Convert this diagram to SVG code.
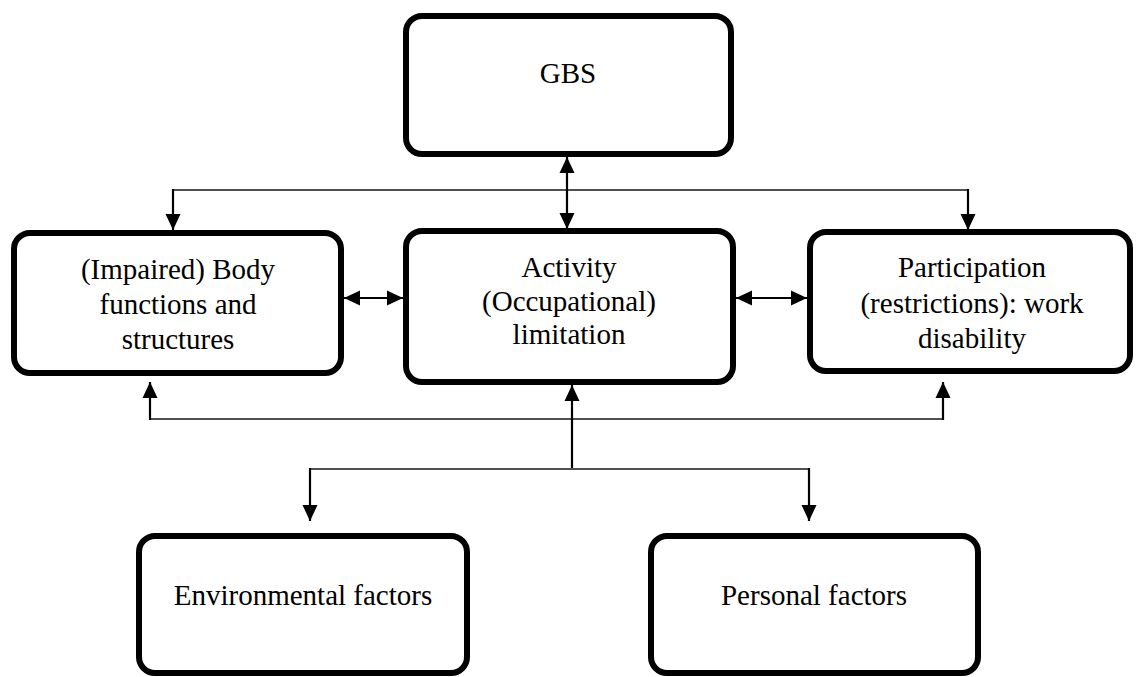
<svg xmlns="http://www.w3.org/2000/svg" width="1136" height="677" viewBox="0 0 1136 677">
<style>
.box{fill:#fff;stroke:#000;stroke-width:6}
.t{font-family:"Liberation Serif","Times New Roman",serif;font-size:29px;fill:#000;text-anchor:middle}
.h{stroke:#505050;stroke-width:1.8;fill:none}
.v{stroke:#000;stroke-width:2.2;fill:none}
.a{marker-end:url(#ah)}
.d{marker-start:url(#ah);marker-end:url(#ah)}
</style>
<defs>
<marker id="ah" markerUnits="userSpaceOnUse" markerWidth="16" markerHeight="16" viewBox="0 0 16 16" refX="16" refY="8" orient="auto-start-reverse">
<path d="M0,0.5 L16,8 L0,15.5 z" fill="#000"/>
</marker>
</defs>
<rect width="1136" height="677" fill="#fff"/>
<g id="connectors">
<line class="h" x1="173" y1="190" x2="968" y2="190"/>
<line class="v a" x1="173" y1="189" x2="173" y2="230"/>
<line class="v a" x1="968" y1="189" x2="968" y2="230"/>
<line class="v d" x1="567" y1="157" x2="567" y2="229"/>
<line class="v d" x1="344" y1="298" x2="403" y2="298"/>
<line class="v d" x1="736" y1="298" x2="807" y2="298"/>
<line class="h" x1="150" y1="419" x2="943" y2="419"/>
<line class="v a" x1="150" y1="420" x2="150" y2="382"/>
<line class="v a" x1="943" y1="420" x2="943" y2="382"/>
<line class="v a" x1="572" y1="469" x2="572" y2="385"/>
<line class="h" x1="310" y1="469" x2="809" y2="469"/>
<line class="v a" x1="310" y1="468" x2="310" y2="521"/>
<line class="v a" x1="809" y1="468" x2="809" y2="521"/>
</g>
<g id="gbs">
<rect class="box" x="406" y="16" width="325" height="138" rx="16"/>
<text class="t" x="568" y="83">GBS</text>
</g>
<g id="body">
<rect class="box" x="14" y="233" width="327" height="140" rx="16"/>
<text class="t" x="178" y="279">(Impaired) Body</text>
<text class="t" x="178" y="314">functions and</text>
<text class="t" x="178" y="349">structures</text>
</g>
<g id="activity">
<rect class="box" x="406" y="231" width="327" height="151" rx="16"/>
<text class="t" x="569" y="277">Activity</text>
<text class="t" x="569" y="311">(Occupational)</text>
<text class="t" x="569" y="344">limitation</text>
</g>
<g id="participation">
<rect class="box" x="810" y="232" width="320" height="139" rx="16"/>
<text class="t" x="972" y="277">Participation</text>
<text class="t" x="972" y="313">(restrictions): work</text>
<text class="t" x="972" y="348">disability</text>
</g>
<g id="environmental">
<rect class="box" x="139" y="536" width="328" height="137" rx="16"/>
<text class="t" x="303" y="605">Environmental factors</text>
</g>
<g id="personal">
<rect class="box" x="651" y="536" width="327" height="137" rx="16"/>
<text class="t" x="814" y="605">Personal factors</text>
</g>
</svg>
